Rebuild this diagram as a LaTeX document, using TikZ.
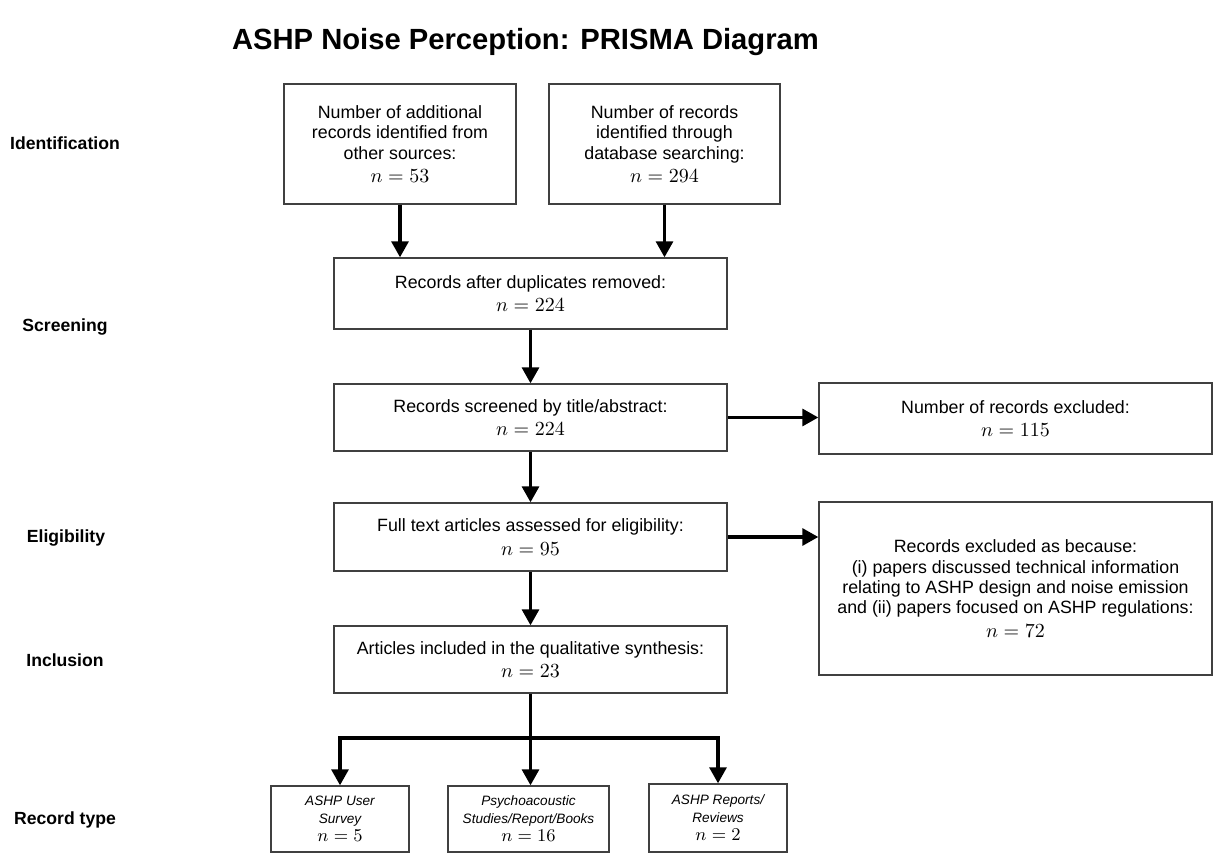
\documentclass[tikz,border=0pt]{standalone}
\usepackage[no-math]{fontspec}
\setmainfont{Liberation Sans}
\usetikzlibrary{arrows.meta}
% count line used inside the boxes
\newcommand\nval[2][10.3]{{\fontsize{#1}{12}\selectfont$n = #2$}}
\begin{document}
\begin{tikzpicture}[x=0.5pt,y=-0.5pt,
  box/.style={draw=black!75, line width=0.7pt, align=center, inner sep=0pt,
    font=\fontsize{8.9}{10.2}\selectfont},
  small/.style={box, font=\fontsize{6.8}{9}\selectfont\itshape},
  arr/.style={line width=1.6pt, -{Triangle[width=8.5pt,length=8pt]}},
  stage/.style={font=\fontsize{8.8}{10}\selectfont\bfseries},
  title/.style={font=\fontsize{14.6}{17}\selectfont\bfseries}]
\useasboundingbox (0,0) rectangle (1214,854);

% heading
\node[title] (ttl) at (525.5,42) {ASHP Noise Perception: PRISMA Diagram};

% stage labels
\node[stage] (sId)  at (65,143) {Identification};
\node[stage] (sScr) at (65,327) {Screening};
\node[stage] (sEl)  at (66,538) {Eligibility};
\node[stage] (sIn)  at (65,660) {Inclusion};
\node[stage] (sRt)  at (65,820) {Record type};

% main flow
\node[box, minimum width=116pt, minimum height=60pt] (other) at (400,144)
  {Number of additional\\records identified from\\other sources:\\[1.5pt]\nval{53}};
\node[box, minimum width=115.5pt, minimum height=60pt] (db) at (664.5,144)
  {Number of records\\identified through\\database searching:\\[1.5pt]\nval{294}};
\node[box, minimum width=196.5pt, minimum height=35.5pt] (dup) at (530.5,293.5)
  {Records after duplicates removed:\\[1.5pt]\nval{224}};
\node[box, minimum width=196.5pt, minimum height=33.5pt] (scr) at (530.5,417.5)
  {Records screened by title/abstract:\\[1.5pt]\nval{224}};
\node[box, minimum width=196.5pt, minimum height=35.5pt] (exc1) at (1015.5,418.5)
  {Number of records excluded:\\[1.5pt]\nval{115}};
\node[box, minimum width=196.5pt, minimum height=34pt] (full) at (530.5,537)
  {Full text articles assessed for eligibility:\\[1.5pt]\nval{95}};
\node[box, minimum width=196.5pt, minimum height=86.5pt] (exc2) at (1015.5,588.5)
  {Records excluded as because:\\(i) papers discussed technical information\\relating to ASHP design and noise emission\\and (ii) papers focused on ASHP regulations:\\[1.5pt]\nval{72}};
\node[box, minimum width=196.5pt, minimum height=33.5pt] (incl) at (530.5,659.5)
  {Articles included in the qualitative synthesis:\\[1.5pt]\nval{23}};

% record types
\node[small, minimum width=69pt, minimum height=33pt] (t1) at (340,819)
  {ASHP User\\Survey\\\upshape\nval[8.9]{5}};
\node[small, minimum width=80.5pt, minimum height=33pt] (t2) at (528.5,819)
  {Psychoacoustic\\Studies/Report/Books\\\upshape\nval[8.9]{16}};
\node[small, minimum width=69pt, minimum height=34pt] (t3) at (718,818)
  {ASHP Reports/\\Reviews\\\upshape\nval[8.9]{2}};

% connectors
\draw[arr] (other.south) -- (other.south |- dup.north);
\draw[arr] (db.south) -- (db.south |- dup.north);
\draw[arr] (dup.south) -- (scr.north);
\draw[arr] (scr.east) -- (scr.east -| exc1.west);
\draw[arr] (scr.south) -- (full.north);
\draw[arr] (full.east) -- (full.east -| exc2.west);
\draw[arr] (full.south) -- (incl.north);
\coordinate (split) at (incl.south |- 0,738);
\draw[arr] (incl.south) -- (incl.south |- t2.north);
\draw[arr] (split) -| (t1.north);
\draw[arr] (split) -| (t3.north);
\end{tikzpicture}
\end{document}
